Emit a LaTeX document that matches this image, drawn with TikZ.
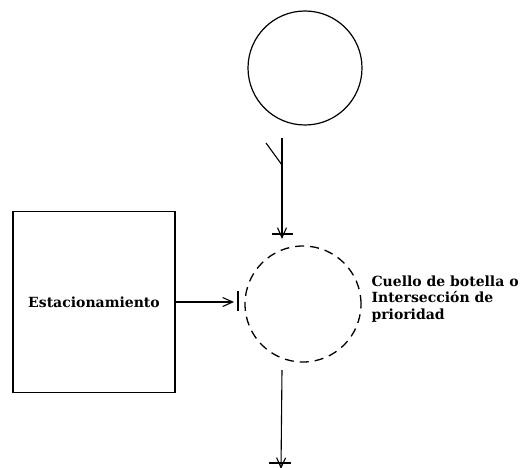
\documentclass[tikz,border=0pt]{standalone}
\usepackage{fontspec}
\setmainfont{DejaVu Serif}
\usetikzlibrary{arrows.meta,positioning}
\tikzset{
  flow/.style={line width=1.1pt, -{Straight Barb[length=10pt,width=9pt]}},
  stopbar/.style={line width=1.7pt},
  lbl/.style={font=\bfseries\fontsize{14}{16.5}\selectfont, align=left}
}
\begin{document}
\begin{tikzpicture}[x=1pt,y=-1pt]
\useasboundingbox (0,0) rectangle (522,468);
% Origin (top circle)
\node[draw, line width=1.2pt, circle, minimum size=114pt] (origin) at (305,68) {};

% Bottleneck (dashed circle)
\node[draw, line width=1.3pt, dash pattern=on 9pt off 6pt, circle, minimum size=116pt] (neck) at (303,304) {};
\node[lbl, anchor=north west] (necklbl) at (368,272) {Cuello de botella o\\Intersección de\\prioridad};

% Parking box
\node[draw, line width=1.2pt, minimum width=162pt, minimum height=181pt] (park) at (94,302) {};
\node[font=\bfseries\fontsize{14}{16}\selectfont] (parklbl) at (park.center) {Estacionamiento};

% Stop bars
\coordinate (topin) at (282,138);
\coordinate (tick) at (266,143);
\coordinate (kink) at (282,165);
\coordinate (topbar) at (282,234);
\coordinate (leftbar) at (238,302);
\coordinate (botout) at (282,370);
\coordinate (botbar) at (281,463);
\draw[stopbar] ([xshift=-10pt]topbar) -- ([xshift=11pt]topbar);
\draw[stopbar] ([yshift=-9pt]leftbar) -- ([yshift=11pt]leftbar);
\draw[stopbar] ([xshift=-12pt]botbar) -- ([xshift=10pt]botbar);

% Arrows
\draw[line width=1.1pt] (tick) -- (kink);
\draw[flow] (topin) -- ([yshift=-5pt]topbar);
\draw[flow] (park.east |- leftbar) -- ([xshift=-4pt]leftbar);
\draw[flow] (botout) -- ([yshift=-6pt]botbar);
\end{tikzpicture}
\end{document}
